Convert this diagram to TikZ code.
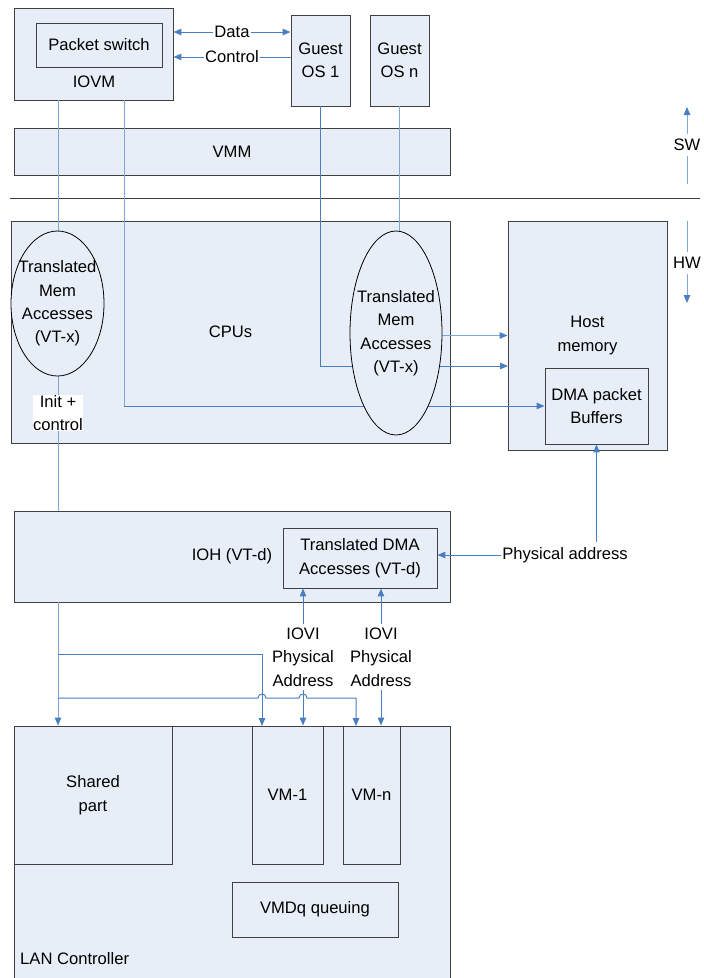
\documentclass[tikz,border=0pt]{standalone}
\usepackage{fontspec}
\setmainfont{Liberation Sans}
\usepackage{tikz}
\usetikzlibrary{arrows.meta,calc,positioning,fit,shapes.geometric}
\definecolor{BoxFill}{RGB}{232,238,247}
\definecolor{BoxEdge}{RGB}{64,64,64}
\definecolor{LinkBlue}{RGB}{74,126,193}
\definecolor{PaleBlue}{RGB}{128,165,215}
\newcommand{\hwbox}[5]{%
  \node[blk,fit={(#2,#3) (#4,#5)}] (#1) {};}

\begin{document}
\begin{tikzpicture}[x=1pt,y=-1pt,
  blk/.style={draw=BoxEdge,fill=BoxFill,line width=0.9pt,inner sep=0pt},
  txt/.style={font=\fontsize{16.6}{23.4}\selectfont,align=center,inner sep=1.5pt,text=black},
  wtxt/.style={txt,fill=white},
  link/.style={LinkBlue,line width=1pt},
  pale/.style={PaleBlue,line width=1pt},
  arrowto/.style={-{Triangle[length=8pt,width=6.5pt,color=LinkBlue]}},
  arrowboth/.style={{Triangle[length=8pt,width=6.5pt]}-{Triangle[length=8pt,width=6.5pt]}},
  mem/.style={ellipse,draw=black,fill=BoxFill,line width=0.8pt,inner sep=0pt}]
  \path[use as bounding box,clip] (0,0) rectangle (704,978);
  % software side
  \hwbox{iovm}{14}{8}{173}{100}
  \hwbox{psw}{36}{23}{162}{67}
  \hwbox{guestA}{291}{15}{350}{106}
  \hwbox{guestN}{370}{15}{429}{106}
  \hwbox{vmm}{14}{128}{450}{175}
  \node[txt] (pswlbl) at (psw) {Packet switch};
  \node[txt] (iovmlbl) at (94,82) {IOVM};
  \node[txt] (guestAlbl) at (guestA) {Guest\\OS 1};
  \node[txt] (guestNlbl) at (guestN) {Guest\\OS n};
  \node[txt] (vmmlbl) at (vmm) {VMM};
  % hardware side
  \hwbox{cpu}{11}{221}{450}{443}
  \hwbox{hostmem}{508}{221}{667}{450}
  \hwbox{dmabuf}{545}{368}{648}{444}
  \hwbox{ioh}{14}{511}{450}{602}
  \hwbox{tdma}{283}{528}{437}{588}
  \hwbox{lan}{14}{726}{450}{990}
  \hwbox{shared}{14}{726}{172}{864}
  \hwbox{vmA}{252}{726}{323}{864}
  \hwbox{vmN}{343}{726}{400}{864}
  \hwbox{vmdq}{232}{882}{398}{937}
  \node[txt] (cpulbl) at (cpu) {CPUs};
  \node[txt] (hostmemlbl) at (hostmem) {Host\\memory};
  \node[txt] (dmabuflbl) at (dmabuf) {DMA packet\\Buffers};
  \node[txt] (iohlbl) at (ioh) {IOH (VT-d)};
  \node[txt] (tdmalbl) at (tdma) {Translated DMA\\Accesses (VT-d)};
  \node[txt] (sharedlbl) at (shared) {Shared\\part};
  \node[txt] (vmAlbl) at (vmA) {VM-1};
  \node[txt] (vmNlbl) at (vmN) {VM-n};
  \node[txt] (vmdqlbl) at (vmdq) {VMDq queuing};
  \node[txt,anchor=west] (lanlbl) at (18.5,959) {LAN Controller};
  % SW / HW split
  \coordinate (sepL) at (10,198);
  \coordinate (sepR) at (700,198);
  \draw[BoxEdge,line width=1pt] (sepL) -- (sepR);
  \node[txt,inner ysep=5pt] (swlbl) at (687,145) {SW};
  \node[txt,inner ysep=5pt] (hwlbl) at (687,263) {HW};
  \coordinate (swTop) at (687,107);
  \coordinate (swBot) at (687,184);
  \coordinate (hwTop) at (687,221);
  \coordinate (hwBot) at (687,303);
  \draw[pale,arrowto] (swlbl) -- (swTop);
  \draw[pale] (swlbl) -- (swBot);
  \draw[pale] (hwTop) -- (hwlbl);
  \draw[pale,arrowto] (hwlbl) -- (hwBot);
  % connectors
  \coordinate (iovmA) at (58,100);
  \coordinate (iovmB) at (124,100);
  \coordinate (dataY) at (0,32);
  \coordinate (ctrlY) at (0,57);
  \coordinate (memIn) at (508,366);
  \coordinate (brA) at (58,654);
  \coordinate (brN) at (58,698);
  \coordinate (vmAin) at (262,726);
  \coordinate (vmNin) at (356,726);
  \draw[link,arrowboth] (iovm.east |- dataY) -- node[wtxt] (datalbl) {Data} (guestA.west |- dataY);
  \draw[link,arrowto] (guestA.west |- ctrlY) -- node[wtxt] (ctrllbl) {Control} (iovm.east |- ctrlY);
  \draw[pale] (iovmA) -- (iovmA |- ioh.north);
  \draw[pale] (iovmB) -- (iovmB |- dmabuf.west);
  \draw[link,arrowto] (iovmB |- dmabuf.west) -- (dmabuf.west);
  \draw[link,arrowto] (guestA.south) |- (memIn);
  \draw[pale,arrowto] (guestN.south) |- (hostmem.west);
  % translated memory accesses
  \node[mem,minimum width=93,minimum height=145] (ellL) at (57.5,303.5) {};
  \node[mem,minimum width=92,minimum height=204] (ellR) at (396,333) {};
  \node[txt] (ellLlbl) at (ellL) {Translated\\Mem\\Accesses\\(VT-x)};
  \node[txt] (ellRlbl) at (ellR) {Translated\\Mem\\Accesses\\(VT-x)};
  \node[wtxt,inner sep=0.5pt] (initlbl) at (58,413) {Init +\\control};
  % IOH to LAN controller
  \draw[pale,arrowto] (iovmA |- ioh.south) -- (iovmA |- shared.north);
  \draw[link,arrowto] (brA) -| (vmAin);
  \draw[link,arrowto] (brN) -- (258,698) .. controls (258,692.7) and (266,692.7) .. (266,698)
    -- (299,698) .. controls (299,692.7) and (307,692.7) .. (307,698) -| (vmNin);
  \node[txt,inner ysep=4pt] (ioviA) at (303,657) {IOVI\\Physical\\Address};
  \node[txt,inner ysep=4pt] (ioviN) at (381,657) {IOVI\\Physical\\Address};
  \draw[link,arrowto] (ioviA) -- (ioviA |- tdma.south);
  \draw[link,arrowto] (ioviA) -- (ioviA |- vmA.north);
  \draw[link,arrowto] (ioviN) -- (ioviN |- tdma.south);
  \draw[link,arrowto] (ioviN) -- (ioviN |- vmN.north);
  \node[txt,inner xsep=1.5pt,inner ysep=5pt] (physlbl) at (565,555) {Physical address};
  \draw[link,arrowto] (physlbl) -- (physlbl -| tdma.east);
  \draw[link,arrowto] (physlbl.north -| dmabuf.south) -- (dmabuf.south);
\end{tikzpicture}
\end{document}
